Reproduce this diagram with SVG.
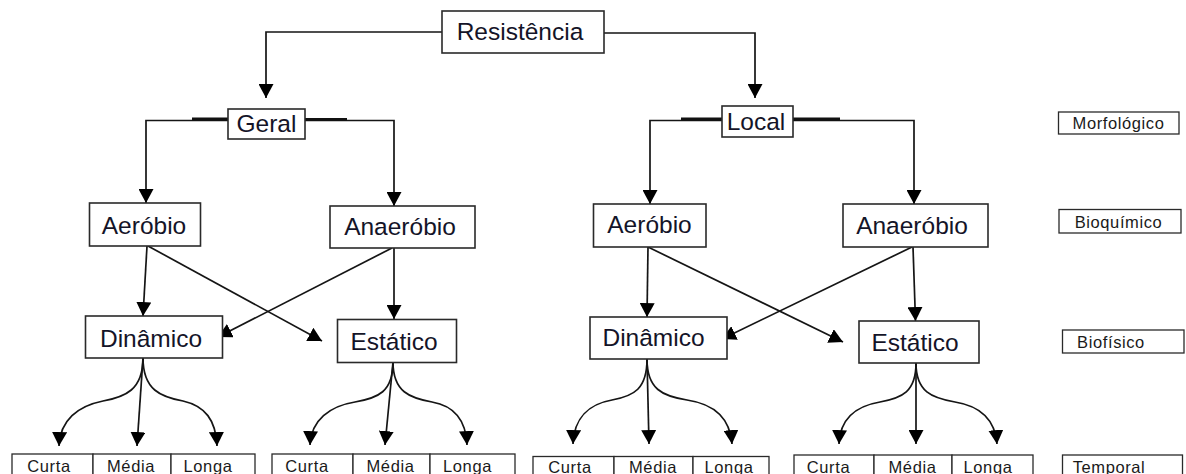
<svg xmlns="http://www.w3.org/2000/svg" width="1186" height="474" viewBox="0 0 1186 474">
<defs>
<style>
.box{fill:#fff;stroke:#2a2a2a;stroke-width:1.6}
.sbox{fill:#fff;stroke:#2a2a2a;stroke-width:1.3}
.t{font-family:"Liberation Sans",Arial,sans-serif;font-size:24.5px;fill:#141428;text-anchor:middle}
.s{font-family:"Liberation Sans",Arial,sans-serif;font-size:16.5px;fill:#1a1a1a;text-anchor:middle;letter-spacing:0.6px}
.c{fill:none;stroke:#151515;stroke-width:1.7;marker-end:url(#ah)}
.p{fill:none;stroke:#151515;stroke-width:1.7}
.k{fill:none;stroke:#111;stroke-width:3}
</style>
<marker id="ah" markerUnits="userSpaceOnUse" markerWidth="15" markerHeight="15" refX="13" refY="7" orient="auto" viewBox="0 0 14 14">
<path d="M0,0 L13,7 L0,14 z" fill="#000"/>
</marker>
</defs>
<rect width="1186" height="474" fill="#fff"/>
<g id="connectors">
<path class="c" d="M442,32 H266 V98"/>
<path class="c" d="M604,33 H755 V98"/>
<path class="c" d="M228,120.5 H146 V203"/>
<path class="k" d="M192,119 H228"/>
<path class="c" d="M305,120.5 H394 V206"/>
<path class="k" d="M305,119.5 H347"/>
<path class="c" d="M722,120.5 H650 V204"/>
<path class="k" d="M681,119 H722"/>
<path class="c" d="M793,120.5 H914 V204"/>
<path class="k" d="M793,119 H840"/>
<path class="c" d="M147,246 L143,316"/>
<path class="c" d="M148,246 L322,341"/>
<path class="c" d="M392,248 L218,337"/>
<path class="c" d="M394,248 L394,319"/>
<path class="c" d="M648,247 L647,317"/>
<path class="c" d="M648,247 L843,342"/>
<path class="c" d="M912,247 L722,339"/>
<path class="c" d="M913,247 L915.5,321"/>
<path class="c" d="M143,358 C143,390 125,397 103,401 C78,406 60,420 59,446"/>
<path class="c" d="M143,358 L137,446"/>
<path class="c" d="M143,358 C143,390 161,397 183,401 C205,406 216,420 217,446"/>
<path class="c" d="M393,362 C393,392 378,398 355,402 C330,406 311,420 310,445"/>
<path class="c" d="M393,362 L385,445"/>
<path class="c" d="M393,362 C393,392 410,398 432,402 C455,406 466,420 467,445"/>
<path class="c" d="M647,359 C647,389 634,396 612,400 C589,404 574,418 573,444"/>
<path class="c" d="M647,359 L649,444"/>
<path class="c" d="M647,359 C647,389 662,396 687,400 C714,404 730,418 732,444"/>
<path class="c" d="M916,363 C916,392 902,398 880,402 C856,406 840,419 839,444"/>
<path class="c" d="M916,363 L916,444"/>
<path class="c" d="M916,363 C916,392 932,398 955,402 C980,406 995,419 997,444"/>
</g>
<g id="resistencia"><rect class="box" x="442" y="11" width="162" height="42"/><text class="t" x="520" y="40">Resistência</text></g>
<g id="geral"><rect class="box" x="228" y="109" width="77" height="30"/><text class="t" x="266.5" y="131.5">Geral</text></g>
<g id="local"><rect class="box" x="722" y="106" width="71" height="31"/><text class="t" x="756" y="129.5">Local</text></g>
<g id="aerobio-g"><rect class="box" x="89.5" y="203" width="111" height="43"/><text class="t" x="144" y="233.5">Aeróbio</text></g>
<g id="anaerobio-g"><rect class="box" x="330" y="206" width="145" height="42"/><text class="t" x="400" y="235">Anaeróbio</text></g>
<g id="dinamico-g"><rect class="box" x="85.5" y="316" width="137" height="42"/><text class="t" x="151" y="346.5">Dinâmico</text></g>
<g id="estatico-g"><rect class="box" x="337.5" y="319.5" width="119" height="43"/><text class="t" x="394" y="349.5">Estático</text></g>
<g id="aerobio-l"><rect class="box" x="593.5" y="204" width="112.5" height="43"/><text class="t" x="649.5" y="233">Aeróbio</text></g>
<g id="anaerobio-l"><rect class="box" x="843" y="204" width="145" height="43"/><text class="t" x="912" y="233.5">Anaeróbio</text></g>
<g id="dinamico-l"><rect class="box" x="590" y="317" width="137" height="42"/><text class="t" x="653.5" y="346">Dinâmico</text></g>
<g id="estatico-l"><rect class="box" x="859" y="321" width="120" height="42"/><text class="t" x="915" y="351">Estático</text></g>
<g id="tempo-1">
<rect class="sbox" x="12" y="454" width="81" height="30"/><rect class="sbox" x="93" y="454" width="78" height="30"/><rect class="sbox" x="171" y="454" width="84" height="30"/>
<text class="s" x="49" y="472">Curta</text><text class="s" x="131" y="472">Média</text><text class="s" x="208" y="472">Longa</text>
</g>
<g id="tempo-2">
<rect class="sbox" x="272" y="454" width="81" height="30"/><rect class="sbox" x="353" y="454" width="77" height="30"/><rect class="sbox" x="430" y="454" width="85" height="30"/>
<text class="s" x="307" y="472">Curta</text><text class="s" x="390.5" y="472">Média</text><text class="s" x="467.5" y="472">Longa</text>
</g>
<g id="tempo-3">
<rect class="sbox" x="533" y="456.5" width="81" height="30"/><rect class="sbox" x="614" y="456.5" width="79" height="30"/><rect class="sbox" x="693" y="456.5" width="76" height="30"/>
<text class="s" x="570" y="473">Curta</text><text class="s" x="653" y="473">Média</text><text class="s" x="729" y="473">Longa</text>
</g>
<g id="tempo-4">
<rect class="sbox" x="794" y="455" width="80" height="30"/><rect class="sbox" x="874" y="455" width="78" height="30"/><rect class="sbox" x="952" y="455" width="81" height="30"/>
<text class="s" x="828.5" y="472.5">Curta</text><text class="s" x="912.5" y="472.5">Média</text><text class="s" x="988" y="472.5">Longa</text>
</g>
<g id="morfologico"><rect class="sbox" x="1058.5" y="112" width="120.5" height="22"/><text class="s" x="1118.5" y="129">Morfológico</text></g>
<g id="bioquimico"><rect class="sbox" x="1059" y="209.5" width="122" height="23.5"/><text class="s" x="1118.5" y="228">Bioquímico</text></g>
<g id="biofisico"><rect class="sbox" x="1062.5" y="330" width="121.5" height="23"/><text class="s" x="1111" y="348">Biofísico</text></g>
<g id="temporal"><rect class="sbox" x="1062.5" y="455" width="120" height="30"/><text class="s" x="1109" y="472.5">Temporal</text></g>
</svg>
